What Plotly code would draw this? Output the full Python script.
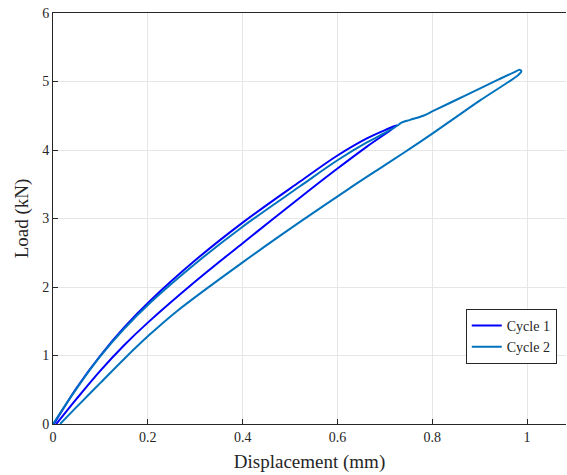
import plotly.graph_objects as go

# Cycle 1: loading (upper branch) then unloading (lower branch)
c1_load_x = [0.002, 0.05, 0.10, 0.15, 0.205, 0.30, 0.40, 0.521, 0.60, 0.662, 0.70, 0.725]
c1_load_y = [0.00, 0.53, 1.00, 1.41, 1.80, 2.39, 2.94, 3.54, 3.92, 4.17, 4.29, 4.36]
c1_unload_x = [0.725, 0.662, 0.60, 0.542, 0.40, 0.30, 0.20, 0.15, 0.10, 0.05, 0.007]
c1_unload_y = [4.36, 4.05, 3.73, 3.42, 2.64, 2.08, 1.48, 1.15, 0.78, 0.37, 0.00]

# Cycle 2
c2_load_x = [0.000, 0.05, 0.10, 0.15, 0.205, 0.30, 0.40, 0.521, 0.60, 0.662, 0.70, 0.725,
             0.735, 0.753, 0.781, 0.802, 0.85, 0.901, 0.94, 0.971, 0.985]
c2_load_y = [0.00, 0.52, 0.99, 1.39, 1.77, 2.34, 2.88, 3.47, 3.85, 4.11, 4.25, 4.35,
             4.40, 4.44, 4.50, 4.57, 4.73, 4.90, 5.03, 5.13, 5.17]
c2_unload_x = [0.988, 0.982, 0.90, 0.85, 0.80, 0.753, 0.70, 0.623, 0.521, 0.40, 0.26,
               0.20, 0.15, 0.10, 0.05, 0.015]
c2_unload_y = [5.15, 5.10, 4.72, 4.48, 4.24, 4.02, 3.78, 3.43, 2.95, 2.36, 1.64,
               1.28, 0.95, 0.60, 0.25, 0.00]

x_ticks = [0, 0.2, 0.4, 0.6, 0.8, 1.0]
x_ticklabels = ["0", "0.2", "0.4", "0.6", "0.8", "1"]
y_ticks = [0, 1, 2, 3, 4, 5, 6]
y_ticklabels = ["0", "1", "2", "3", "4", "5", "6"]

FONT = "Liberation Serif"

fig = go.Figure()
fig.add_trace(go.Scatter(
    x=c1_load_x + c1_unload_x[1:], y=c1_load_y + c1_unload_y[1:],
    mode="lines", name="Cycle 1",
    line=dict(color="#0000FF", width=2, shape="spline", smoothing=1.0),
))
fig.add_trace(go.Scatter(
    x=c2_load_x + c2_unload_x, y=c2_load_y + c2_unload_y,
    mode="lines", name="Cycle 2",
    line=dict(color="#0072BD", width=2, shape="spline", smoothing=1.0),
))

axis_common = dict(
    showgrid=True, gridcolor="#e6e6e6", gridwidth=1,
    showline=True, linecolor="#262626", linewidth=1,
    ticks="inside", ticklen=5, tickcolor="#262626",
    zeroline=False, automargin=False, ticklabeloverflow="allow",
    tickfont=dict(family=FONT, size=14, color="#262626"),
)

fig.update_layout(
    width=567, height=475,
    margin=dict(l=53, r=1, t=13, b=51),
    paper_bgcolor="white", plot_bgcolor="white",
    font=dict(family=FONT, color="#262626"),
    xaxis=dict(range=[0, 1.082], tickvals=x_ticks, ticktext=x_ticklabels, mirror=True,
               title=dict(text="Displacement (mm)", font=dict(family=FONT, size=19), standoff=10),
               **axis_common),
    yaxis=dict(range=[0, 6], tickvals=y_ticks, ticktext=y_ticklabels, mirror=False,
               title=dict(text="Load (kN)", font=dict(family=FONT, size=19), standoff=8),
               **axis_common),
    legend=dict(x=0.982, y=0.146, xanchor="right", yanchor="bottom",
                bgcolor="white", bordercolor="#262626", borderwidth=1,
                font=dict(family=FONT, size=14, color="#262626"),
                tracegroupgap=0, itemwidth=30),
    showlegend=True,
)

# Remove the default 8px page-body margin so the figure sits at the window's top-left corner.
fig.write_html("out.html", config={"displayModeBar": False},
               post_script="document.body.style.margin='0';")
